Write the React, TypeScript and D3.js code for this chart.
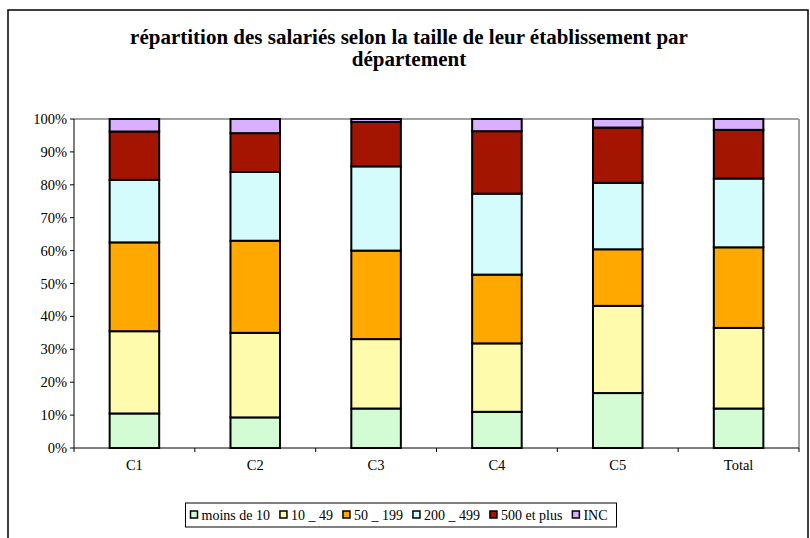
import React from "react";
import * as d3 from "d3";

const categories = ["C1", "C2", "C3", "C4", "C5", "Total"];
const seriesNames = ["moins de 10", "10 _ 49", "50 _ 199", "200 _ 499", "500 et plus", "INC"];
const seriesColors = ["#d4fcd4", "#fffbad", "#ffa800", "#d4fcfc", "#a31500", "#d9b0ff"];
const moinsDe10 = [10.5, 9.3, 12.0, 11.0, 16.7, 12.0];
const de10a49 = [25.0, 25.7, 21.1, 20.8, 26.5, 24.5];
const de50a199 = [27.0, 28.0, 26.9, 20.9, 17.2, 24.5];
const de200a499 = [19.0, 20.9, 25.6, 24.6, 20.2, 20.9];
const plus500 = [14.7, 11.8, 13.5, 19.0, 16.8, 14.8];
const inc = [3.8, 4.3, 0.9, 3.7, 2.6, 3.3];
const yTicks = [0, 10, 20, 30, 40, 50, 60, 70, 80, 90, 100];
const titleLines = ["répartition des salariés selon la taille de leur établissement par", "département"];

const FONT = "'Liberation Serif', 'Times New Roman', Times, serif";

function measure(text: string, size: number, weight = "normal") {
  const c = document.createElement("canvas").getContext("2d")!;
  c.font = `${weight} ${size}px ${FONT}`;
  return c.measureText(text).width;
}

export default function App() {
  const W = 810, H = 538;
  const left = 74, right = 799, top = 119, bottom = 448;
  const seriesValues = [moinsDe10, de10a49, de50a199, de200a499, plus500, inc];
  const rows = categories.map((c, i) => {
    const r: any = { cat: c };
    seriesNames.forEach((s, k) => (r[s] = seriesValues[k][i]));
    return r;
  });
  const stack = d3.stack<any>().keys(seriesNames).offset(d3.stackOffsetExpand)(rows);
  const x = d3.scaleBand().domain(categories).range([left, right]).paddingInner(0.59).paddingOuter(0.295);
  const step = x.step();
  const y = d3.scaleLinear().domain([0, 1]).range([bottom, top]);
  const ts = { fontFamily: FONT };

  const legFont = 14;
  const widths = seriesNames.map((s) => 7 + 4 + measure(s, legFont) + 10);
  const totalW = d3.sum(widths);
  const legendCenter = 401;
  const legendX = legendCenter - totalW / 2 - 2;
  const legendY = 503, legendH = 24;
  let acc = legendX + 5;
  const legendPos = widths.map((w) => {
    const p = acc;
    acc += w;
    return p;
  });

  return (
    <svg width={W} height={H} style={{ position: "absolute", left: 0, top: 0, background: "#fff" }}>
      <rect x={8} y={10} width={800} height={540} fill="#fff" stroke="#000" strokeWidth={1.5} />
      {titleLines.map((t, i) => (
        <text key={i} x={409} y={44 + i * 22} textAnchor="middle" fontSize={21} fontWeight="bold" style={ts}>
          {t}
        </text>
      ))}
      <line x1={left} x2={right} y1={top} y2={top} stroke="#a0a0a0" strokeWidth={2} />
      <line x1={right} x2={right} y1={top} y2={bottom} stroke="#a0a0a0" strokeWidth={2} />
      {stack.map((layer, k) => (
        <g key={k}>
          {layer.map((d, i) => (
            <rect
              key={i}
              x={x(categories[i])!}
              width={x.bandwidth()}
              y={y(d[1])}
              height={y(d[0]) - y(d[1])}
              fill={seriesColors[k]}
              stroke="#000"
              strokeWidth={2}
            />
          ))}
        </g>
      ))}
      <line x1={left} x2={left} y1={top} y2={bottom} stroke="#000" strokeWidth={1} />
      <line x1={left} x2={right} y1={bottom} y2={bottom} stroke="#000" strokeWidth={1} />
      {yTicks.map((t) => (
        <g key={t}>
          <line x1={left - 4} x2={left} y1={y(t / 100)} y2={y(t / 100)} stroke="#000" />
          <text x={left - 7} y={y(t / 100) + 5} textAnchor="end" fontSize={14.5} style={ts}>
            {t + "%"}
          </text>
        </g>
      ))}
      {d3.range(categories.length + 1).map((i) => (
        <line key={i} x1={left + i * step} x2={left + i * step} y1={bottom} y2={bottom + 4} stroke="#000" />
      ))}
      {categories.map((c) => (
        <text key={c} x={x(c)! + x.bandwidth() / 2} y={bottom + 22} textAnchor="middle" fontSize={14.5} style={ts}>
          {c}
        </text>
      ))}
      <rect x={legendX} y={legendY} width={totalW + 4} height={legendH} fill="#fff" stroke="#000" strokeWidth={1} />
      {seriesNames.map((s, k) => (
        <g key={s}>
          <rect x={legendPos[k]} y={legendY + 8} width={7} height={7} fill={seriesColors[k]} stroke="#000" strokeWidth={1.5} />
          <text x={legendPos[k] + 11} y={legendY + 17} fontSize={legFont} style={ts}>
            {s}
          </text>
        </g>
      ))}
    </svg>
  );
}
